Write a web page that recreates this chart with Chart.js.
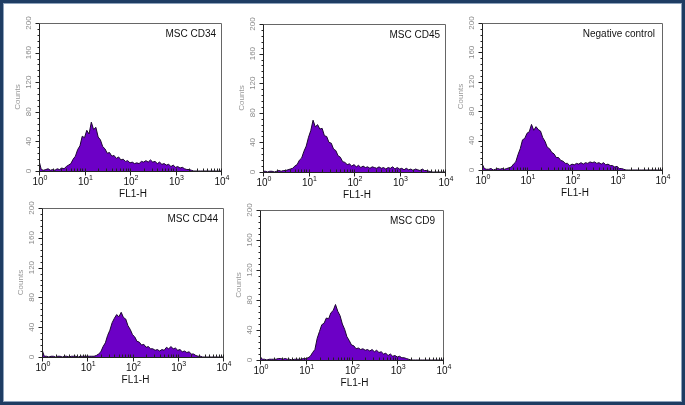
<!DOCTYPE html>
<html>
<head>
<meta charset="utf-8">
<script src="https://cdn.jsdelivr.net/npm/chart.js@4.4.1/dist/chart.umd.min.js"></script>
<style>
  html, body { margin: 0; padding: 0; background: #fff; }
  #frame {
    position: absolute; left: 0; top: 0; width: 685px; height: 405px;
    box-sizing: border-box; border: 3px solid #1f3d63;
    box-shadow: inset 0 0 0 1px #8ea3bc; background: #fff;
  }
  canvas { position: absolute; }
</style>
</head>
<body>
<div id="frame"></div>

<script>
// bins every 0.05 decade from 10^0 to 10^4
const logBins = Array.from({ length: 81 }, (_, i) => i * 0.05);
const decades = [0, 1, 2, 3, 4];
const countTicks = [0, 40, 80, 120, 160, 200];

// counts per bin
const cd34 = [
  14, 2, 1, 2, 3, 1, 2, 1, 3, 2,
  4, 3, 6, 8, 10, 16, 20, 29, 34, 47,
  45, 55, 50, 66, 56, 59, 46, 42, 33, 30,
  24, 25, 20, 21, 17, 19, 15, 16, 13, 14,
  11, 12, 10, 11, 10, 13, 12, 14, 12, 15,
  12, 13, 10, 12, 9, 10, 8, 9, 6, 8,
  5, 6, 4, 5, 3, 2, 2, 1, 0, 0,
  0, 0, 0, 0, 0, 0, 0, 0, 0, 0, 0
];
const cd45 = [
  1, 1, 0, 1, 1, 0, 1, 2, 1, 2,
  2, 3, 4, 5, 8, 10, 16, 19, 28, 35,
  47, 56, 70, 61, 64, 58, 59, 49, 48, 40,
  39, 31, 29, 22, 20, 14, 13, 10, 11, 8,
  10, 7, 9, 6, 8, 6, 7, 5, 7, 6,
  5, 7, 5, 6, 4, 6, 5, 7, 4, 6,
  4, 5, 3, 5, 3, 4, 2, 4, 3, 2,
  4, 2, 2, 1, 0, 0, 0, 0, 0, 0, 0
];
const negControl = [
  9, 2, 1, 1, 2, 0, 1, 2, 1, 2,
  1, 2, 3, 4, 8, 11, 21, 29, 41, 43,
  50, 52, 62, 54, 59, 55, 53, 44, 39, 31,
  29, 24, 22, 17, 17, 13, 12, 9, 9, 6,
  8, 7, 9, 8, 10, 8, 10, 9, 11, 10,
  11, 9, 10, 8, 10, 7, 8, 6, 6, 4,
  5, 2, 2, 1, 0, 0, 0, 0, 0, 0,
  0, 0, 0, 0, 0, 0, 0, 0, 0, 0, 0
];
const cd44 = [
  10, 1, 1, 0, 1, 1, 0, 1, 1, 0,
  1, 1, 0, 1, 1, 1, 0, 1, 1, 1,
  1, 1, 1, 1, 2, 4, 7, 14, 19, 29,
  36, 46, 52, 57, 54, 60, 53, 51, 42, 37,
  30, 27, 21, 20, 16, 17, 13, 14, 11, 11,
  9, 10, 8, 10, 9, 13, 11, 14, 11, 12,
  9, 10, 7, 8, 6, 7, 4, 4, 2, 1,
  1, 0, 0, 0, 0, 0, 0, 0, 0, 0, 0
];
const cd9 = [
  5, 1, 1, 0, 1, 1, 1, 1, 2, 2,
  1, 2, 1, 1, 0, 1, 1, 1, 1, 2,
  2, 3, 5, 10, 14, 29, 38, 47, 49, 56,
  55, 63, 66, 74, 65, 59, 48, 41, 31, 26,
  20, 19, 15, 16, 14, 15, 13, 14, 12, 14,
  11, 13, 10, 11, 8, 9, 6, 8, 5, 6,
  4, 5, 3, 3, 2, 1, 0, 0, 0, 0,
  0, 0, 0, 0, 0, 0, 0, 0, 0, 0, 0
];

const FILL = '#6c00c6';
const EDGE = '#1b0630';
const FONT = "'Liberation Sans', Arial, sans-serif";

// plot boxes in page pixels
const panels = [
  { title: 'MSC CD34', values: cd34, L: 39, T: 23, R: 221, B: 171, inset: 5 },
  { title: 'MSC CD45', values: cd45, L: 263, T: 24, R: 445, B: 172, inset: 5 },
  { title: 'Negative control', values: negControl, L: 482, T: 23, R: 662, B: 170, inset: 7 },
  { title: 'MSC CD44', values: cd44, L: 42, T: 208, R: 223, B: 357, inset: 5 },
  { title: 'MSC CD9', values: cd9, L: 260, T: 210, R: 443, B: 360, inset: 8 }
];

// flow-cytometry style frame, ticks and labels
const facsAxes = {
  id: 'facsAxes',
  afterDatasetsDraw(chart, args, opts) {
    const { ctx, chartArea: a, scales: { x, y } } = chart;
    const left = Math.round(a.left) + 0.5, right = Math.round(a.right) + 0.5;
    const top = Math.round(a.top) + 0.5, bottom = Math.round(a.bottom) + 0.5;
    ctx.save();
    ctx.lineWidth = 1;
    ctx.strokeStyle = '#666';
    ctx.beginPath();
    ctx.moveTo(left, top); ctx.lineTo(right, top); ctx.lineTo(right, bottom);
    ctx.stroke();
    ctx.strokeStyle = '#222';
    ctx.beginPath();
    ctx.moveTo(left, top); ctx.lineTo(left, bottom); ctx.lineTo(right, bottom);
    ctx.stroke();

    // y ticks: major every 40, minor every 8
    ctx.beginPath();
    for (let v = 0; v <= 200; v += 8) {
      const py = Math.round(y.getPixelForValue(v)) + 0.5;
      ctx.moveTo(left - (v % 40 === 0 ? 4 : 2), py);
      ctx.lineTo(left, py);
    }
    // x ticks: decades down, 2..9 up
    decades.forEach(d => {
      const px = Math.round(x.getPixelForValue(Math.pow(10, d))) + 0.5;
      ctx.moveTo(px, bottom + 4); ctx.lineTo(px, bottom - 3);
      if (d < 4) {
        for (let m = 2; m <= 9; m++) {
          const pm = Math.round(x.getPixelForValue(m * Math.pow(10, d))) + 0.5;
          ctx.moveTo(pm, bottom); ctx.lineTo(pm, bottom - 3);
        }
      }
    });
    ctx.stroke();

    // y tick labels, rotated, grey
    ctx.fillStyle = '#8a8a8a';
    ctx.font = '8px ' + FONT;
    ctx.textAlign = 'center';
    ctx.textBaseline = 'middle';
    countTicks.forEach(v => {
      const py = y.getPixelForValue(v);
      ctx.save();
      ctx.translate(a.left - 10, py);
      ctx.rotate(-Math.PI / 2);
      ctx.fillText(String(v), 0, 0);
      ctx.restore();
    });
    ctx.save();
    ctx.translate(a.left - 21, (a.top + a.bottom) / 2);
    ctx.rotate(-Math.PI / 2);
    ctx.fillStyle = '#999';
    ctx.fillText('Counts', 0, 0);
    ctx.restore();

    // x tick labels 10^n
    ctx.fillStyle = '#111';
    ctx.textAlign = 'left';
    ctx.textBaseline = 'alphabetic';
    decades.forEach(d => {
      const px = x.getPixelForValue(Math.pow(10, d));
      ctx.font = '10px ' + FONT;
      const w1 = ctx.measureText('10').width;
      ctx.font = '7px ' + FONT;
      const w2 = ctx.measureText(String(d)).width;
      const x0 = px - (w1 + w2) / 2 + 1;
      ctx.font = '10px ' + FONT;
      ctx.fillText('10', x0, a.bottom + 14);
      ctx.font = '7px ' + FONT;
      ctx.fillText(String(d), x0 + w1, a.bottom + 9);
    });
    ctx.font = '10px ' + FONT;
    ctx.textAlign = 'center';
    ctx.fillText('FL1-H', (a.left + a.right) / 2 + 3, a.bottom + 26);

    // panel title
    ctx.textAlign = 'right';
    ctx.fillText(opts.title, a.right - opts.inset, a.top + 14);
    ctx.restore();
  }
};

const PAD = { left: 40, top: 12, right: 10, bottom: 28 };

panels.forEach(p => {
  const cv = document.createElement('canvas');
  const w = p.R - p.L + PAD.left + PAD.right;
  const h = p.B - p.T + PAD.top + PAD.bottom;
  cv.width = w; cv.height = h;
  cv.style.left = (p.L - PAD.left) + 'px';
  cv.style.top = (p.T - PAD.top) + 'px';
  cv.style.width = w + 'px';
  cv.style.height = h + 'px';
  document.body.appendChild(cv);

  new Chart(cv, {
    type: 'line',
    data: {
      datasets: [{
        data: logBins.map((lb, i) => ({ x: Math.pow(10, lb), y: p.values[i] })),
        fill: 'origin',
        backgroundColor: FILL,
        borderColor: EDGE,
        borderWidth: 1,
        pointRadius: 0,
        tension: 0
      }]
    },
    options: {
      responsive: false,
      animation: false,
      devicePixelRatio: 1,
      layout: { padding: PAD },
      plugins: {
        legend: { display: false },
        tooltip: { enabled: false },
        facsAxes: { title: p.title, inset: p.inset }
      },
      scales: {
        x: { type: 'logarithmic', min: 1, max: 10000, display: false },
        y: { type: 'linear', min: 0, max: 200, display: false }
      }
    },
    plugins: [facsAxes]
  });
});
</script>
</body>
</html>
